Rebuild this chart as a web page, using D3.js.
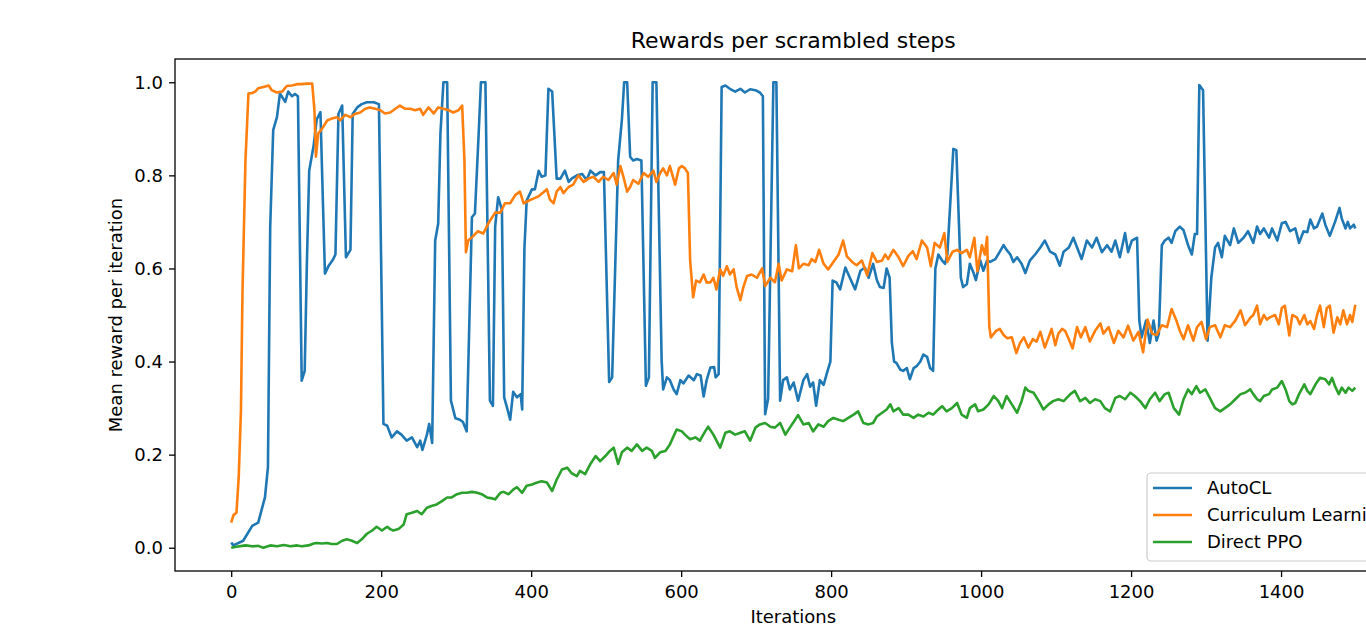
<!DOCTYPE html>
<html>
<head>
<meta charset="utf-8">
<script src="https://cdn.jsdelivr.net/npm/d3@7"></script>
<style>
  html, body { margin: 0; padding: 0; background: #fff; }
  svg { display: block; font-family: "DejaVu Sans", sans-serif; }
</style>
</head>
<body>
<div id="main"></div>
<script>
/**
 * Rewards per scrambled steps - line chart
 */
const WIDTH = 1366;
const HEIGHT = 626;
const MARGIN = { top: 59, left: 175, bottom: 571, right: 1411.5 };
const FONT = 18;

const SERIES_NAMES = ['AutoCL', 'Curriculum Learning', 'Direct PPO'];
const COLORS = ['#1f77b4', '#ff7f0e', '#2ca02c'];
const X_TICKS = [0, 200, 400, 600, 800, 1000, 1200, 1400];
const Y_TICKS = [0.0, 0.2, 0.4, 0.6, 0.8, 1.0];

// [iteration, mean reward]
const autoCL = [
  [0,0.011],[3,0.005],[16,0.015],[28,0.047],[36,0.054],[45,0.108],[49,0.173],[52,0.689],[56,0.897],[61,0.925],
  [65,0.976],[72,0.958],[76,0.98],[81,0.97],[85,0.975],[89,0.97],[94,0.359],[98,0.38],[101,0.617],[104,0.81],
  [110,0.865],[114,0.92],[119,0.936],[122,0.76],[125,0.589],[130,0.606],[136,0.62],[139,0.63],[143,0.932],[148,0.95],
  [153,0.624],[159,0.64],[162,0.932],[168,0.946],[174,0.953],[181,0.957],[190,0.957],[197,0.953],[203,0.266],[208,0.262],
  [214,0.237],[221,0.25],[227,0.243],[234,0.23],[241,0.237],[248,0.216],[252,0.23],[255,0.21],[261,0.243],[264,0.266],
  [268,0.225],[272,0.66],[276,0.696],[279,0.89],[283,1.0],[288,1.0],[293,0.316],[299,0.278],[305,0.275],[309,0.27],
  [314,0.25],[321,0.71],[325,0.718],[330,0.89],[333,1.0],[339,1.0],[345,0.316],[349,0.305],[352,0.69],[356,0.753],
  [361,0.726],[364,0.323],[368,0.30],[372,0.275],[376,0.335],[381,0.323],[386,0.33],[388,0.297],[391,0.643],[394,0.746],
  [401,0.77],[405,0.77],[410,0.81],[414,0.797],[419,0.8],[423,0.986],[428,0.98],[434,0.793],[439,0.793],[445,0.81],
  [450,0.786],[454,0.793],[461,0.8],[468,0.803],[474,0.79],[479,0.81],[486,0.8],[492,0.807],[497,0.807],[504,0.356],
  [508,0.366],[516,0.832],[521,0.92],[524,1.0],[528,1.0],[532,0.84],[536,0.832],[541,0.835],[547,0.832],[553,0.348],
  [557,0.366],[562,1.0],[567,1.0],[574,0.402],[576,0.34],[581,0.366],[585,0.36],[590,0.34],[594,0.33],[599,0.36],
  [603,0.353],[610,0.37],[617,0.36],[621,0.373],[626,0.37],[630,0.325],[634,0.36],[639,0.387],[644,0.388],[646,0.366],
  [650,0.373],[654,0.99],[659,0.993],[665,0.986],[672,0.98],[679,0.986],[685,0.978],[692,0.985],[699,0.983],[705,0.978],
  [709,0.97],[712,0.287],[716,0.32],[723,1.0],[727,1.0],[732,0.316],[736,0.36],[741,0.366],[745,0.34],[750,0.355],
  [756,0.316],[763,0.36],[768,0.373],[772,0.346],[776,0.355],[780,0.305],[785,0.36],[790,0.35],[794,0.373],[799,0.40],
  [802,0.574],[807,0.57],[812,0.555],[819,0.602],[825,0.58],[832,0.555],[839,0.595],[845,0.602],[850,0.58],[856,0.61],
  [861,0.575],[865,0.56],[870,0.558],[874,0.6],[878,0.58],[881,0.44],[884,0.4],[887,0.397],[892,0.383],[896,0.38],
  [901,0.386],[905,0.362],[910,0.386],[914,0.39],[919,0.4],[923,0.415],[928,0.41],[932,0.386],[936,0.38],[939,0.6],
  [943,0.63],[948,0.617],[952,0.61],[955,0.63],[963,0.857],[967,0.854],[973,0.58],[976,0.56],[981,0.566],[985,0.61],
  [990,0.59],[993,0.575],[999,0.617],[1003,0.595],[1008,0.617],[1012,0.614],[1019,0.62],[1025,0.636],[1030,0.65],[1034,0.64],
  [1039,0.63],[1043,0.614],[1048,0.624],[1054,0.61],[1059,0.59],[1065,0.617],[1072,0.63],[1079,0.645],[1085,0.66],[1092,0.636],
  [1099,0.63],[1105,0.606],[1110,0.636],[1117,0.645],[1123,0.666],[1128,0.645],[1134,0.62],[1141,0.66],[1148,0.645],[1154,0.666],
  [1161,0.635],[1168,0.65],[1174,0.636],[1179,0.66],[1185,0.624],[1192,0.676],[1196,0.635],[1201,0.66],[1208,0.666],[1211,0.488],
  [1214,0.452],[1220,0.488],[1225,0.44],[1230,0.488],[1234,0.445],[1237,0.46],[1241,0.65],[1245,0.66],[1250,0.666],[1254,0.655],
  [1259,0.68],[1265,0.69],[1270,0.682],[1276,0.65],[1281,0.63],[1285,0.674],[1288,0.674],[1291,0.994],[1296,0.983],[1302,0.445],
  [1307,0.58],[1312,0.645],[1316,0.655],[1321,0.624],[1325,0.67],[1332,0.65],[1337,0.686],[1343,0.655],[1350,0.666],[1356,0.68],
  [1363,0.655],[1368,0.69],[1372,0.674],[1377,0.686],[1384,0.666],[1388,0.686],[1395,0.66],[1401,0.697],[1406,0.7],[1412,0.68],
  [1419,0.686],[1424,0.655],[1430,0.68],[1435,0.678],[1439,0.705],[1444,0.686],[1448,0.69],[1455,0.718],[1459,0.694],[1465,0.67],
  [1472,0.7],[1478,0.73],[1481,0.707],[1486,0.686],[1489,0.7],[1492,0.686],[1497,0.694],[1499,0.686]
];

const curriculum = [
  [0,0.054],[3,0.07],[7,0.075],[10,0.151],[13,0.295],[15,0.545],[19,0.832],[23,0.976],[28,0.977],[32,0.98],
  [36,0.987],[43,0.99],[50,0.993],[54,0.983],[61,0.978],[68,0.98],[74,0.992],[81,0.993],[88,0.996],[94,0.996],
  [101,0.997],[108,0.997],[111,0.94],[113,0.84],[116,0.89],[121,0.9],[128,0.918],[134,0.922],[141,0.925],[145,0.918],
  [152,0.93],[159,0.925],[165,0.932],[172,0.935],[179,0.943],[185,0.946],[192,0.943],[199,0.94],[205,0.933],[212,0.935],
  [219,0.943],[225,0.95],[232,0.943],[239,0.943],[245,0.94],[252,0.943],[256,0.93],[263,0.946],[270,0.933],[276,0.946],
  [283,0.943],[290,0.94],[296,0.935],[303,0.94],[308,0.95],[311,0.832],[313,0.635],[316,0.66],[323,0.67],[329,0.68],
  [336,0.675],[343,0.697],[352,0.72],[359,0.72],[365,0.74],[372,0.74],[379,0.758],[385,0.765],[390,0.74],[397,0.746],
  [403,0.75],[410,0.755],[416,0.763],[421,0.77],[425,0.748],[430,0.74],[434,0.765],[439,0.775],[443,0.762],[450,0.775],
  [456,0.78],[463,0.8],[470,0.786],[476,0.793],[483,0.797],[490,0.786],[496,0.797],[503,0.79],[510,0.805],[514,0.78],
  [519,0.82],[523,0.797],[528,0.765],[532,0.775],[536,0.79],[543,0.782],[550,0.805],[556,0.797],[563,0.81],[567,0.786],
  [572,0.805],[576,0.815],[581,0.8],[585,0.82],[592,0.78],[597,0.815],[601,0.82],[605,0.815],[609,0.805],[612,0.617],
  [616,0.538],[620,0.574],[625,0.57],[630,0.587],[634,0.57],[639,0.57],[643,0.58],[647,0.555],[652,0.598],[656,0.584],
  [661,0.605],[665,0.587],[670,0.598],[674,0.56],[679,0.532],[683,0.56],[688,0.584],[694,0.587],[701,0.58],[708,0.6],
  [712,0.562],[719,0.58],[725,0.57],[730,0.61],[734,0.574],[741,0.598],[748,0.594],[753,0.65],[757,0.6],[763,0.61],
  [770,0.607],[774,0.62],[779,0.614],[784,0.64],[790,0.61],[796,0.598],[803,0.614],[810,0.63],[816,0.66],[821,0.626],
  [828,0.614],[834,0.607],[841,0.617],[848,0.585],[855,0.633],[861,0.614],[868,0.617],[872,0.63],[876,0.62],[883,0.64],
  [890,0.624],[896,0.605],[903,0.627],[909,0.637],[914,0.62],[921,0.66],[928,0.645],[933,0.605],[938,0.655],[945,0.645],
  [951,0.676],[955,0.614],[962,0.636],[968,0.64],[974,0.633],[981,0.64],[985,0.624],[991,0.666],[995,0.594],[1001,0.65],
  [1005,0.63],[1008,0.668],[1011,0.474],[1013,0.452],[1020,0.466],[1025,0.47],[1030,0.457],[1035,0.45],[1041,0.452],[1047,0.418],
  [1052,0.44],[1057,0.452],[1063,0.43],[1069,0.448],[1074,0.443],[1079,0.464],[1085,0.43],[1090,0.452],[1094,0.47],[1099,0.435],
  [1103,0.46],[1108,0.47],[1112,0.466],[1117,0.448],[1122,0.428],[1128,0.474],[1133,0.452],[1139,0.474],[1145,0.443],[1152,0.466],
  [1159,0.482],[1163,0.46],[1170,0.474],[1177,0.44],[1183,0.466],[1190,0.452],[1196,0.477],[1203,0.445],[1210,0.464],[1216,0.42],
  [1222,0.49],[1228,0.46],[1234,0.457],[1241,0.478],[1248,0.474],[1254,0.513],[1260,0.49],[1265,0.466],[1270,0.448],[1276,0.478],
  [1283,0.445],[1288,0.474],[1294,0.485],[1300,0.448],[1305,0.474],[1312,0.478],[1319,0.452],[1325,0.478],[1332,0.474],[1339,0.488],
  [1346,0.51],[1352,0.478],[1359,0.494],[1363,0.5],[1368,0.52],[1372,0.48],[1377,0.5],[1381,0.49],[1385,0.495],[1392,0.5],
  [1397,0.48],[1401,0.515],[1405,0.52],[1411,0.456],[1415,0.5],[1421,0.495],[1425,0.48],[1431,0.5],[1435,0.48],[1439,0.487],
  [1444,0.47],[1448,0.5],[1452,0.52],[1457,0.474],[1461,0.515],[1465,0.52],[1470,0.462],[1475,0.495],[1479,0.48],[1483,0.51],
  [1488,0.48],[1492,0.5],[1495,0.485],[1499,0.522]
];

const directPPO = [
  [0,0.0],[7,0.002],[19,0.005],[28,0.003],[36,0.004],[43,0.0],[52,0.005],[61,0.003],[70,0.006],[79,0.003],
  [88,0.005],[94,0.003],[103,0.005],[110,0.009],[114,0.01],[121,0.009],[128,0.01],[134,0.008],[141,0.008],[148,0.015],
  [154,0.018],[161,0.015],[168,0.01],[174,0.018],[181,0.03],[188,0.037],[194,0.045],[201,0.037],[208,0.045],[212,0.04],
  [216,0.037],[223,0.04],[230,0.05],[234,0.072],[241,0.075],[248,0.079],[254,0.072],[261,0.086],[268,0.09],[274,0.093],
  [281,0.1],[288,0.108],[294,0.108],[301,0.115],[308,0.118],[314,0.118],[321,0.12],[328,0.118],[334,0.115],[341,0.108],
  [348,0.106],[352,0.104],[359,0.118],[363,0.12],[370,0.115],[376,0.125],[381,0.13],[388,0.118],[394,0.133],[401,0.136],
  [408,0.14],[414,0.143],[421,0.14],[428,0.122],[434,0.146],[441,0.168],[448,0.172],[454,0.16],[461,0.154],[465,0.165],
  [472,0.158],[479,0.18],[486,0.197],[492,0.186],[499,0.197],[505,0.208],[510,0.215],[516,0.18],[521,0.205],[528,0.215],
  [534,0.208],[541,0.222],[548,0.208],[554,0.215],[561,0.208],[565,0.193],[572,0.205],[579,0.208],[585,0.222],[594,0.254],
  [601,0.25],[605,0.243],[612,0.233],[619,0.237],[625,0.23],[632,0.25],[636,0.26],[643,0.243],[652,0.215],[659,0.247],
  [665,0.25],[672,0.243],[679,0.247],[685,0.25],[692,0.23],[699,0.258],[705,0.265],[712,0.268],[719,0.26],[725,0.258],
  [732,0.268],[739,0.243],[745,0.258],[752,0.275],[756,0.285],[763,0.265],[770,0.268],[776,0.25],[783,0.265],[790,0.26],
  [796,0.272],[803,0.279],[810,0.275],[816,0.272],[823,0.279],[830,0.286],[836,0.293],[843,0.268],[850,0.265],[856,0.268],
  [861,0.282],[868,0.29],[874,0.297],[879,0.308],[883,0.293],[890,0.3],[896,0.286],[903,0.286],[910,0.279],[916,0.286],
  [923,0.282],[930,0.29],[936,0.286],[943,0.297],[948,0.304],[954,0.293],[961,0.3],[968,0.311],[974,0.286],[981,0.279],
  [985,0.3],[992,0.308],[996,0.293],[1003,0.297],[1010,0.308],[1017,0.326],[1023,0.315],[1028,0.3],[1034,0.326],[1041,0.308],
  [1048,0.29],[1054,0.315],[1059,0.344],[1063,0.337],[1070,0.333],[1077,0.315],[1083,0.297],[1090,0.308],[1096,0.315],[1103,0.319],
  [1110,0.315],[1119,0.33],[1125,0.337],[1132,0.315],[1139,0.322],[1145,0.311],[1152,0.319],[1159,0.315],[1165,0.3],[1172,0.293],
  [1179,0.322],[1185,0.326],[1192,0.319],[1199,0.333],[1205,0.326],[1212,0.315],[1219,0.3],[1225,0.319],[1232,0.333],[1238,0.315],
  [1245,0.33],[1250,0.333],[1257,0.3],[1264,0.286],[1270,0.319],[1276,0.34],[1281,0.33],[1287,0.347],[1292,0.333],[1299,0.34],
  [1305,0.322],[1312,0.3],[1319,0.293],[1325,0.3],[1332,0.308],[1339,0.319],[1346,0.33],[1352,0.333],[1359,0.34],[1363,0.33],
  [1368,0.319],[1372,0.315],[1377,0.326],[1384,0.33],[1388,0.34],[1395,0.344],[1401,0.358],[1406,0.34],[1411,0.315],[1415,0.308],
  [1419,0.311],[1424,0.33],[1431,0.351],[1435,0.337],[1439,0.33],[1446,0.351],[1452,0.365],[1459,0.362],[1464,0.351],[1468,0.365],
  [1472,0.347],[1477,0.33],[1481,0.344],[1486,0.333],[1490,0.344],[1495,0.337],[1499,0.344]
];

const SERIES = [autoCL, curriculum, directPPO];

/**
 * Scales (matplotlib style 5% padding on both axes)
 */
const xMax = d3.max(SERIES, s => d3.max(s, d => d[0]));
const xPad = xMax * 0.05;
const x = d3.scaleLinear().domain([-xPad, xMax + xPad]).range([MARGIN.left, MARGIN.right]);
const y = d3.scaleLinear().domain([-0.05, 1.05]).range([MARGIN.bottom, MARGIN.top]);

function getSvg() {
  return d3.select('#main')
    .append('svg')
    .attr('width', WIDTH)
    .attr('height', HEIGHT)
    .attr('viewBox', [0, 0, WIDTH, HEIGHT]);
}

function renderAxes(svg) {
  const xAxis = svg.append('g')
    .attr('transform', `translate(0, ${MARGIN.bottom})`)
    .call(d3.axisBottom(x).tickValues(X_TICKS).tickFormat(d3.format('d'))
      .tickSize(6).tickSizeOuter(0).tickPadding(8));

  const yAxis = svg.append('g')
    .attr('transform', `translate(${MARGIN.left}, 0)`)
    .call(d3.axisLeft(y).tickValues(Y_TICKS).tickFormat(d3.format('.1f'))
      .tickSize(6).tickSizeOuter(0).tickPadding(6));

  [xAxis, yAxis].forEach(g => {
    g.select('.domain').remove();
    g.selectAll('line').attr('stroke', '#000').attr('stroke-width', 1.3);
    g.selectAll('text')
      .attr('fill', '#000')
      .style('font-size', FONT + 'px')
      .style('font-family', '"DejaVu Sans", sans-serif');
  });
}

function renderLines(svg) {
  const line = d3.line().x(d => x(d[0])).y(d => y(d[1]));

  svg.append('g')
    .selectAll('path')
    .data(SERIES)
    .join('path')
    .attr('d', line)
    .attr('fill', 'none')
    .attr('stroke', (d, i) => COLORS[i])
    .attr('stroke-width', 2.6)
    .attr('stroke-linejoin', 'round');
}

function renderFrame(svg) {
  svg.append('rect')
    .attr('x', MARGIN.left)
    .attr('y', MARGIN.top)
    .attr('width', MARGIN.right - MARGIN.left)
    .attr('height', MARGIN.bottom - MARGIN.top)
    .attr('fill', 'none')
    .attr('stroke', '#000')
    .attr('stroke-width', 1.3);
}

function renderLabels(svg) {
  svg.append('text')
    .attr('x', (MARGIN.left + MARGIN.right) / 2)
    .attr('y', 48)
    .attr('text-anchor', 'middle')
    .style('font-size', '22px')
    .text('Rewards per scrambled steps');

  svg.append('text')
    .attr('x', (MARGIN.left + MARGIN.right) / 2)
    .attr('y', 623)
    .attr('text-anchor', 'middle')
    .style('font-size', FONT + 'px')
    .text('Iterations');

  svg.append('text')
    .attr('transform', `translate(122, ${(MARGIN.top + MARGIN.bottom) / 2}) rotate(-90)`)
    .attr('text-anchor', 'middle')
    .style('font-size', FONT + 'px')
    .text('Mean reward per iteration');
}

function renderLegend(svg) {
  const left = 1147;
  const top = 473;
  const g = svg.append('g');

  g.append('rect')
    .attr('x', left)
    .attr('y', top)
    .attr('width', MARGIN.right - 8 - left)
    .attr('height', 88)
    .attr('rx', 4)
    .attr('fill', '#fff')
    .attr('fill-opacity', 0.8)
    .attr('stroke', '#cccccc')
    .attr('stroke-width', 1.2);

  const rows = g.selectAll('.item')
    .data(SERIES_NAMES)
    .join('g')
    .attr('class', 'item')
    .attr('transform', (d, i) => `translate(${left}, ${top + 15 + i * 27})`);

  rows.append('line')
    .attr('x1', 6)
    .attr('x2', 45)
    .attr('stroke', (d, i) => COLORS[i])
    .attr('stroke-width', 2.6);

  rows.append('text')
    .attr('x', 60)
    .attr('dy', '0.36em')
    .style('font-size', FONT + 'px')
    .text(d => d);
}

const svg = getSvg();
renderLines(svg);
renderFrame(svg);
renderAxes(svg);
renderLabels(svg);
renderLegend(svg);
</script>
</body>
</html>
